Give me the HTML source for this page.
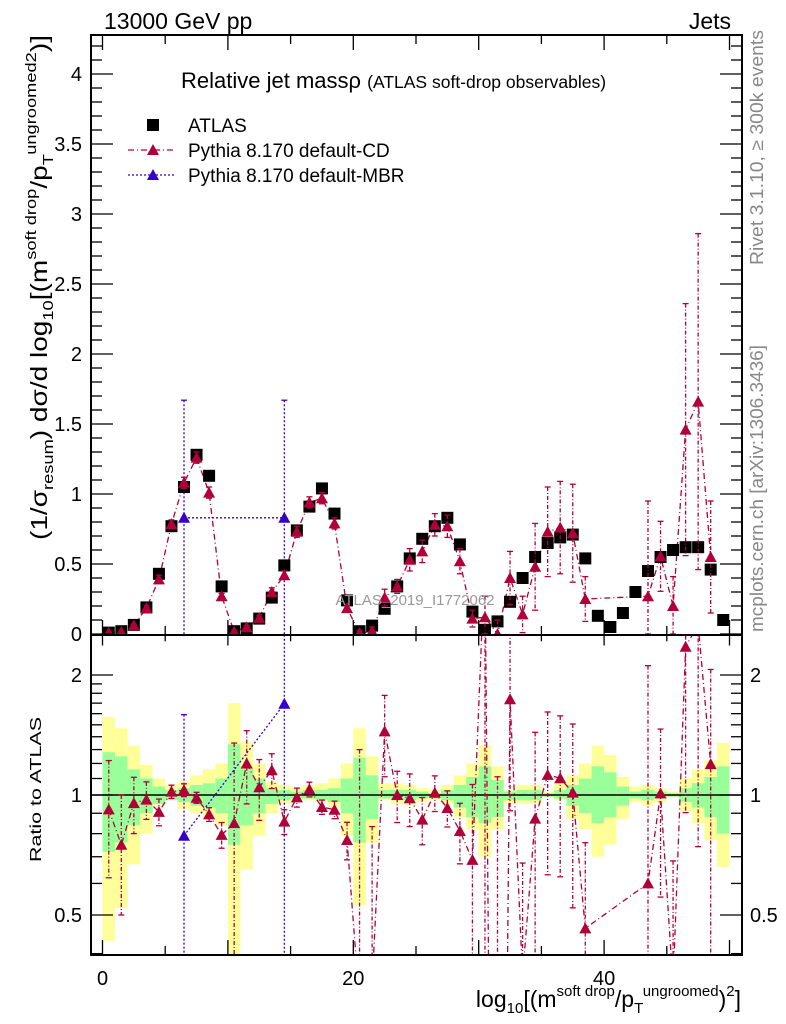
<!DOCTYPE html>
<html><head><meta charset="utf-8"><style>
html,body{margin:0;padding:0;background:#fff;width:786px;height:1024px;overflow:hidden;}
svg{display:block;font-family:"Liberation Sans",sans-serif;}
</style></head><body>
<svg id="chart" width="786" height="1024" viewBox="0 0 786 1024">
<defs>
<clipPath id="clipMain"><rect x="91" y="35" width="651" height="600"/></clipPath>
<clipPath id="clipRatio"><rect x="91" y="635" width="651" height="320"/></clipPath>
</defs>
<g id="bands" clip-path="url(#clipRatio)"></g>
<g id="ratioMarks" clip-path="url(#clipRatio)"></g>
<g id="mainMarks" clip-path="url(#clipMain)"></g>
<g id="axes"></g>
<text x="104" y="29" font-size="23">13000 GeV pp</text>
<text x="731" y="29" font-size="23" text-anchor="end">Jets</text>
<text x="181" y="88" font-size="22">Relative jet massρ <tspan font-size="17.5">(ATLAS soft-drop observables)</tspan></text>
<g>
<g><rect x="147" y="119" width="12" height="12" fill="#000"/><text x="188" y="132" font-size="19">ATLAS</text></g>
<g><line x1="128" y1="150" x2="175" y2="150" stroke="#b0003a" stroke-width="1.3" stroke-dasharray="6,3,1,3"/><polygon points="153,144 147,155 159,155" fill="#b0003a"/><text x="188" y="157" font-size="19">Pythia 8.170 default-CD</text></g>
<g><line x1="128" y1="175" x2="175" y2="175" stroke="#3300cc" stroke-width="1.3" stroke-dasharray="2,2"/><polygon points="153,169 147,180 159,180" fill="#3300cc"/><text x="188" y="182" font-size="19">Pythia 8.170 default-MBR</text></g>
</g>
<text x="415" y="605" font-size="15" fill="#999" text-anchor="middle">ATLAS_2019_I1772062</text>
<text transform="translate(763,265) rotate(-90)" font-size="18" fill="#888" textLength="235" lengthAdjust="spacingAndGlyphs">Rivet 3.1.10, ≥ 300k events</text>
<text transform="translate(763,632) rotate(-90)" font-size="18" fill="#888" textLength="287" lengthAdjust="spacingAndGlyphs">mcplots.cern.ch [arXiv:1306.3436]</text>
<text transform="translate(47,540) rotate(-90)" font-size="23" textLength="505" lengthAdjust="spacingAndGlyphs">(1/σ<tspan font-size="15" dy="6">resum</tspan><tspan dy="-6">) dσ/d log</tspan><tspan font-size="15" dy="6">10</tspan><tspan dy="-6">[(m</tspan><tspan font-size="15" dy="-11">soft drop</tspan><tspan dy="11">/p</tspan><tspan font-size="15" dy="6">T</tspan><tspan font-size="15" dy="-17">ungroomed</tspan><tspan font-size="15" dy="0">2</tspan><tspan dy="11">)]</tspan></text>
<text transform="translate(41,862) rotate(-90)" font-size="16" textLength="145" lengthAdjust="spacingAndGlyphs">Ratio to ATLAS</text>
<text x="741" y="1007" font-size="23" text-anchor="end">log<tspan font-size="15" dy="6">10</tspan><tspan dy="-6">[(m</tspan><tspan font-size="15" dy="-11">soft drop</tspan><tspan dy="11">/p</tspan><tspan font-size="15" dy="6">T</tspan><tspan font-size="15" dy="-17">ungroomed</tspan><tspan dy="11">)</tspan><tspan font-size="15" dy="-11">2</tspan><tspan dy="11">]</tspan></text>
</svg>
<script>
const atlas = [0.01,0.02,0.065,0.19,0.43,0.77,1.05,1.28,1.13,0.34,0.02,0.04,0.11,0.26,0.49,0.74,0.91,1.04,0.86,0.24,0.02,0.06,0.18,0.34,0.54,0.68,0.77,0.83,0.64,0.16,0.03,0.09,0.23,0.40,0.55,0.65,0.69,0.71,0.54,0.13,0.05,0.15,0.30,0.45,0.55,0.60,0.62,0.62,0.46,0.10];
const cd = [0.0092,0.015,0.062,0.185,0.39,0.785,1.08,1.26,1.01,0.27,0.017,0.048,0.115,0.30,0.42,0.73,0.94,0.97,0.79,0.185,0.006,0.02,0.26,0.34,0.53,0.59,0.78,0.77,0.52,0.11,0.12,0.0,0.40,0.14,0.48,0.73,0.76,0.72,0.25,null,null,null,null,0.27,0.555,0.20,1.46,1.66,0.55,null];
const cdErr = [0.003,0.005,0.01,0.02,0.03,0.03,0.04,0.04,0.04,0.02,0.01,0.01,0.02,0.03,0.03,0.04,0.04,0.04,0.04,0.02,0.02,0.03,0.06,0.05,0.08,0.08,0.08,0.08,0.09,0.06,0.15,0.1,0.19,0.13,0.31,0.32,0.33,0.35,0.16,0,0,0,0,0.68,0.25,0.21,0.9,1.2,0.40,0];
const mbrBins = [6,14];
const mbr = [0.83,0.83];
const mbrErr = [0.84,0.84];
const yelUp = [1.57,1.47,1.33,1.19,1.10,1.06,1.08,1.12,1.16,1.20,1.70,1.36,1.20,1.08,1.06,1.04,1.06,1.07,1.10,1.20,1.47,1.25,1.07,1.07,1.06,1.04,1.03,1.06,1.12,1.20,1.33,1.18,1.03,1.06,1.06,1.02,1.07,1.12,1.20,1.33,1.26,1.11,1.05,1.06,1.04,1.02,1.10,1.16,1.22,1.35];
const yelDn = [0.43,0.52,0.67,0.80,0.94,0.98,0.92,0.90,0.87,0.84,0.35,0.65,0.79,0.90,0.95,0.97,0.97,0.96,0.93,0.79,0.53,0.76,0.97,0.95,0.94,0.96,0.97,0.95,0.88,0.82,0.70,0.82,0.95,0.95,0.95,0.99,0.97,0.87,0.82,0.70,0.75,0.87,0.96,0.94,0.96,0.99,0.91,0.85,0.77,0.66];
const grnUp = [1.28,1.25,1.16,1.10,1.05,1.03,1.04,1.06,1.07,1.10,1.34,1.18,1.10,1.04,1.03,1.02,1.03,1.03,1.04,1.10,1.24,1.12,1.03,1.03,1.03,1.02,1.01,1.03,1.06,1.11,1.18,1.09,1.02,1.03,1.03,1.01,1.03,1.06,1.10,1.18,1.14,1.05,1.02,1.03,1.02,1.01,1.04,1.07,1.11,1.18];
const grnDn = [0.72,0.76,0.84,0.90,0.95,0.97,0.96,0.94,0.93,0.90,0.75,0.84,0.90,0.95,0.97,0.98,0.98,0.97,0.96,0.90,0.76,0.87,0.98,0.97,0.97,0.98,0.99,0.97,0.93,0.88,0.85,0.88,0.97,0.97,0.97,0.99,0.98,0.94,0.90,0.85,0.88,0.94,0.98,0.97,0.98,0.99,0.96,0.93,0.88,0.80];
const mainTicks = ["0","0.5","1","1.5","2","2.5","3","3.5","4"];
const xTicks = ["0","20","40"];
const ratioTicks = ["0.5","1","2"];

const NS="http://www.w3.org/2000/svg";
const RED="#b0003a", BLUE="#3300cc";
const L=91,R=742,T=35,MID=635,B=955;
const sx = v => 102.5 + 12.54*v;
const sy = v => 634 - 140*v;
const sr = v => 795 - 398.6*Math.log10(Math.max(v,1e-3));
function mk(tag, attrs, parent){const e=document.createElementNS(NS,tag);for(const k in attrs)e.setAttribute(k,attrs[k]);parent.appendChild(e);return e;}
const axes=document.getElementById('axes'), mainG=document.getElementById('mainMarks'), ratG=document.getElementById('ratioMarks'), bandG=document.getElementById('bands');

for(let i=0;i<atlas.length;i++){
  const x0=sx(i), w=sx(i+1)-sx(i);
  let r=mk('rect',{x:x0,y:sr(yelUp[i]),width:w,height:sr(yelDn[i])-sr(yelUp[i]),fill:'#ffff99'},bandG);
  
  
  r=mk('rect',{x:x0,y:sr(grnUp[i]),width:w,height:sr(grnDn[i])-sr(grnUp[i]),fill:'#99ff99'},bandG);
  
  
}
let ul=mk('line',{x1:L,x2:R,y1:sr(1),y2:sr(1),stroke:'#000','stroke-width':1.5},ratG);



function tri(g,x,y,col){return mk('polygon',{points:`${x},${y-6} ${x-6},${y+5} ${x+6},${y+5}`,fill:col},g);}
function errbar(g,x,y1,y2,col,dash){
  const l=mk('line',{x1:x,x2:x,y1:y1,y2:y2,stroke:col,'stroke-width':1.3,'stroke-dasharray':dash},g);
  mk('line',{x1:x-3,x2:x+3,y1:y1,y2:y1,stroke:col,'stroke-width':1.3},g);
  mk('line',{x1:x-3,x2:x+3,y1:y2,y2:y2,stroke:col,'stroke-width':1.3},g);
  return l;
}
let pm=[],pr=[];
for(let i=0;i<cd.length;i++){
  if(cd[i]===null) continue;
  const x=sx(i+0.5);
  pm.push(`${x},${sy(cd[i])}`);
  pr.push(`${x},${sr(cd[i]/atlas[i])}`);
}
let cl=mk('polyline',{points:pm.join(' '),fill:'none',stroke:RED,'stroke-width':1.3,'stroke-dasharray':'6,3,1,3'},mainG);


cl=mk('polyline',{points:pr.join(' '),fill:'none',stroke:RED,'stroke-width':1.3,'stroke-dasharray':'6,3,1,3'},ratG);


let mp=[],mr=[];
for(let k=0;k<mbrBins.length;k++){
  const i=mbrBins[k],x=sx(i+0.5);
  mp.push(`${x},${sy(mbr[k])}`); mr.push(`${x},${sr(mbr[k]/atlas[i])}`);
  errbar(mainG,x,sy(mbr[k]+mbrErr[k]),sy(Math.max(mbr[k]-mbrErr[k],0)-0.05),BLUE,'2,2');
  errbar(ratG,x,sr((mbr[k]+mbrErr[k])/atlas[i]),sr(Math.max(mbr[k]-mbrErr[k],1e-3)/atlas[i]),BLUE,'2,2');
}
cl=mk('polyline',{points:mp.join(' '),fill:'none',stroke:BLUE,'stroke-width':1.3,'stroke-dasharray':'2,2'},mainG);


cl=mk('polyline',{points:mr.join(' '),fill:'none',stroke:BLUE,'stroke-width':1.3,'stroke-dasharray':'2,2'},ratG);



for(let i=0;i<atlas.length;i++){
  const x=sx(i+0.5);
  const s=mk('rect',{x:x-6,y:sy(atlas[i])-6,width:12,height:12,fill:'#000'},mainG);
  
  
}
for(let i=0;i<cd.length;i++){
  if(cd[i]===null) continue;
  const x=sx(i+0.5);
  if(cdErr[i]>0){
    errbar(mainG,x,sy(cd[i]+cdErr[i]),sy(Math.max(cd[i]-cdErr[i],0)),RED,'4,2,1,2');
    errbar(ratG,x,sr((cd[i]+cdErr[i])/atlas[i]),sr(Math.max(cd[i]-cdErr[i],1e-3)/atlas[i]),RED,'4,2,1,2');
  }
  let t=tri(mainG,x,sy(cd[i]),RED);
  
  
  t=tri(ratG,x,sr(cd[i]/atlas[i]),RED);
  
  
}
for(let k=0;k<mbrBins.length;k++){
  const i=mbrBins[k],x=sx(i+0.5);
  let t=tri(mainG,x,sy(mbr[k]),BLUE);
  
  
  t=tri(ratG,x,sr(mbr[k]/atlas[i]),BLUE);
  
  
}

let f=mk('rect',{x:L,y:T,width:R-L,height:MID-T,fill:'none',stroke:'#000','stroke-width':2},axes);


f=mk('rect',{x:L,y:MID,width:R-L,height:B-MID,fill:'none',stroke:'#000','stroke-width':2},axes);


const ln=(x1,y1,x2,y2)=>mk('line',{x1,y1,x2,y2,stroke:'#000','stroke-width':1.3},axes);
for(let v=0;v<=50;v+=1){
  const x=sx(v), major=(v%10===0), mid=(v%5===0);
  const len= major?15:(mid?9:0);
  if(!len) continue;
  ln(x,B,x,B-len); ln(x,MID,x,MID+len*0.7); ln(x,MID,x,MID-len); ln(x,T,x,T+len);
}
xTicks.forEach(s=>{const t=mk('text',{x:sx(+s),y:985,'font-size':20,'text-anchor':'middle'},axes);t.textContent=s;
  
  });
for(let k=0;k<=42;k++){
  const v=k/10,y=sy(v); if(y<T) break;
  const len=(k%5===0)?22:11;
  ln(L,y,L+len,y); ln(R,y,R-len,y);
}
mainTicks.forEach(s=>{const v=+s;
  const t=mk('text',{x:82,y:sy(v)+7,'font-size':20,'text-anchor':'end'},axes);t.textContent=s;
  
  });
const rmin=[0.4,0.6,0.7,0.8,0.9,1.1,1.2,1.3,1.4,1.5,1.6,1.7,1.8,1.9];
rmin.forEach(v=>{const y=sr(v); if(y>B||y<MID)return; ln(L,y,L+11,y); ln(R,y,R-11,y);});
ratioTicks.forEach(s=>{const y=sr(+s); ln(L,y,L+22,y); ln(R,y,R-22,y);
  let t=mk('text',{x:82,y:y+7,'font-size':20,'text-anchor':'end'},axes);t.textContent=s;
  
  
  t=mk('text',{x:750,y:y+7,'font-size':20},axes);t.textContent=s;
  
  });
</script>
</body></html>
